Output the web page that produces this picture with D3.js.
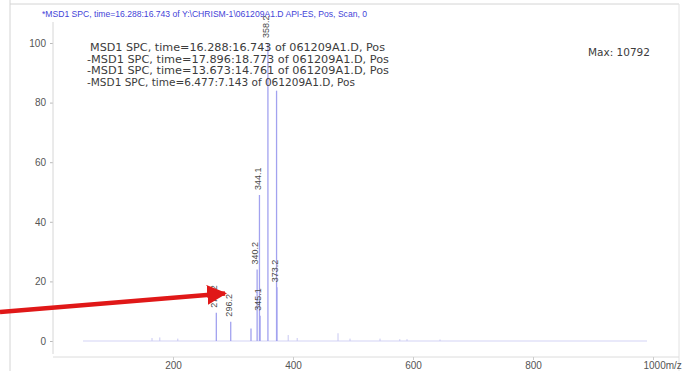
<!DOCTYPE html>
<html><head><meta charset="utf-8">
<script src="https://cdn.jsdelivr.net/npm/d3@7"></script>
<style>
html,body{margin:0;padding:0;background:#fff;}
svg{display:block;}
</style></head>
<body>
<script>
// ---- data ----
const titleText = "*MSD1 SPC, time=16.288:16.743 of Y:\\CHRISM-1\\061209A1.D   API-ES, Pos, Scan, 0";
const legendLines = [
  "MSD1 SPC, time=16.288:16.743 of 061209A1.D, Pos",
  "-MSD1 SPC, time=17.896:18.773 of 061209A1.D, Pos",
  "-MSD1 SPC, time=13.673:14.761 of 061209A1.D, Pos",
  "-MSD1 SPC, time=6.477:7.143 of 061209A1.D, Pos"
];
const maxText = "Max:  10792";
const xTicks = [200, 400, 600, 800, 1000];
const yTicks = [0, 20, 40, 60, 80, 100];
const peakMz    = [272.2, 296.2, 330.0, 340.2, 344.1, 345.1, 358.2, 372.6, 373.2];
const peakInt   = [9.5,   6.5,   4.2,   24,    49,    8.5,   100,   84,    18];
const peakLabel = ["272.2","296.2","",  "340.2","344.1","345.1","358.2","", "373.2"];
const noiseMz  = [165, 178, 208, 392, 407, 475, 495, 545, 578, 590, 645];
const noiseInt = [1.0, 1.2, 0.8, 2.0, 1.0, 2.6, 0.8, 0.8, 0.6, 0.6, 0.5];
const baselineRange = [50, 990];

// ---- chart ----
const W = 685, H = 371;
const svg = d3.select("body").append("svg").attr("width", W).attr("height", H);

const x = d3.scaleLinear().domain([0, 1000]).range([53, 653]);
const y = d3.scaleLinear().domain([0, 100]).range([341, 43]);

// frame
svg.append("line").attr("x1",10).attr("x2",10).attr("y1",0).attr("y2",H).attr("stroke","#d4d4d4");
svg.append("line").attr("x1",10).attr("x2",679).attr("y1",4).attr("y2",4).attr("stroke","#d4d4d4");
svg.append("line").attr("x1",679).attr("x2",679).attr("y1",4).attr("y2",H).attr("stroke","#e2e2e2");

// title
svg.append("text").attr("x",42).attr("y",17).attr("fill","#4444d8")
  .attr("font-family","Liberation Sans, Arial, sans-serif").attr("font-size",9)
  .attr("textLength",325).attr("lengthAdjust","spacingAndGlyphs").text(titleText);

// y axis
const yAxis = d3.axisLeft(y).tickValues(yTicks).tickSize(3).tickPadding(4).tickFormat(d3.format("d"));
const gy = svg.append("g").attr("transform",`translate(${x(0)},0)`).call(yAxis);
gy.select(".domain").remove();
gy.selectAll(".tick line").attr("stroke","#bbb");
gy.selectAll(".tick text").attr("fill","#555").attr("font-size",10)
  .attr("font-family","Liberation Sans, Arial, sans-serif");
svg.append("line").attr("x1",x(0)).attr("x2",x(0)).attr("y1",22).attr("y2",354).attr("stroke","#d6d6d6");

// x axis
const xAxis = d3.axisBottom(x).tickValues(xTicks).tickSize(3).tickPadding(2)
  .tickFormat(d => d === 1000 ? "1000m/z" : d3.format("d")(d));
const gx = svg.append("g").attr("transform","translate(0,357)").call(xAxis);
gx.select(".domain").attr("stroke","#dcdcdc").attr("d", `M${x(0)},0H679`);
gx.selectAll(".tick line").attr("stroke","#ccc");
gx.selectAll(".tick text").attr("fill","#555").attr("font-size",10)
  .attr("font-family","Liberation Sans, Arial, sans-serif");
gx.selectAll(".tick text").filter(d => d === 1000).attr("text-anchor","start").attr("dx",-10);

// baseline
svg.append("line").attr("x1",x(baselineRange[0])).attr("x2",x(baselineRange[1]))
  .attr("y1",y(0)).attr("y2",y(0)).attr("stroke","#d4d4f6").attr("stroke-width",1.2);

// noise
svg.append("g").selectAll("line").data(noiseMz).join("line")
  .attr("x1",d=>x(d)).attr("x2",d=>x(d)).attr("y1",y(0)).attr("y2",(d,i)=>y(noiseInt[i]))
  .attr("stroke","#c8c8f2").attr("stroke-width",1);

// peaks
const peaks = peakMz.map((m,i)=>({mz:m, v:peakInt[i], label:peakLabel[i]}));
svg.append("g").selectAll("line").data(peaks).join("line")
  .attr("x1",d=>x(d.mz)).attr("x2",d=>x(d.mz)).attr("y1",y(0)).attr("y2",d=>y(d.v))
  .attr("stroke","#a2a2ef").attr("stroke-width",1.3);

svg.append("g").selectAll("text").data(peaks.filter(d=>d.label)).join("text")
  .attr("transform",d=>`translate(${x(d.mz)-2},${y(d.v)-5}) rotate(-90)`)
  .attr("dy","0.35em").attr("fill","#4a4a4a").attr("font-size",9)
  .attr("font-family","Liberation Sans, Arial, sans-serif").text(d=>d.label);

// legend text
svg.append("g").selectAll("text").data(legendLines).join("text")
  .attr("x",(d,i)=> i===0 ? 90 : 87).attr("y",(d,i)=>51 + i*11.6)
  .attr("fill","#3c3c3c").attr("font-size",10.5)
  .attr("font-family","DejaVu Sans, sans-serif")
  .attr("textLength",(d,i)=> i===0 ? 295 : i===3 ? 268 : 302)
  .attr("lengthAdjust","spacingAndGlyphs").text(d=>d);

// max
svg.append("text").attr("x",588).attr("y",56).attr("fill","#3c3c3c").attr("font-size",10.5)
  .attr("font-family","DejaVu Sans, sans-serif").attr("textLength",62)
  .attr("lengthAdjust","spacingAndGlyphs").text(maxText);

// red arrow annotation
const defs = svg.append("defs");
defs.append("marker").attr("id","ah").attr("viewBox","0 0 10 10").attr("refX",9).attr("refY",5)
  .attr("markerWidth",4.4).attr("markerHeight",4.8).attr("markerUnits","strokeWidth").attr("orient","auto")
  .append("path").attr("d","M0,0L10,5L0,10Z").attr("fill","#e01818");
svg.append("line").attr("x1",0).attr("y1",312).attr("x2",225).attr("y2",293.5)
  .attr("stroke","#e01818").attr("stroke-width",4.5).attr("marker-end","url(#ah)");
</script>
</body></html>
